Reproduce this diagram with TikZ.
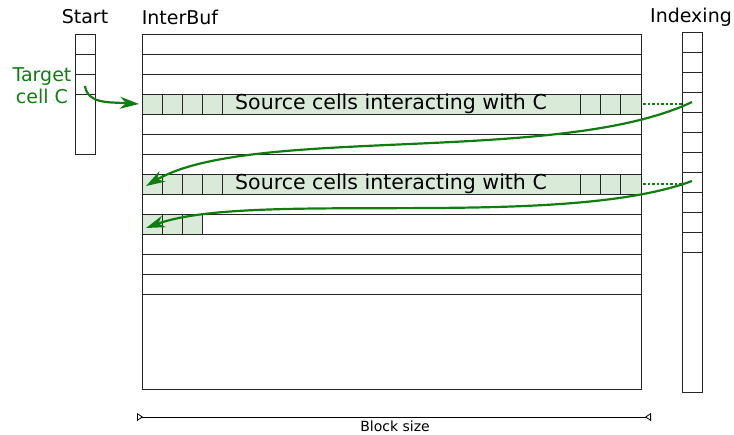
\documentclass[tikz,border=0pt]{standalone}
\usepackage{fontspec}
\setmainfont{DejaVu Sans}
\usetikzlibrary{arrows.meta}
\definecolor{cellgreen}{RGB}{217,234,217}
\definecolor{flowgreen}{RGB}{16,125,16}
\begin{document}
\begin{tikzpicture}[x=1pt,y=-1pt,
    cellline/.style={draw=black!85, line width=0.8pt},
    flowarrow/.style={draw=flowgreen, line width=2.2pt, -{Stealth[length=19pt,width=12pt,inset=6pt]}},
    dotlink/.style={draw=flowgreen, line width=2.5pt, dotted},
    titlelabel/.style={font=\fontsize{19}{22}\selectfont}]
\useasboundingbox (0,0) rectangle (734,434);
% titles
\node[titlelabel] (start) at (85,17) {Start};
\node[titlelabel] (interbuf) at (180,17) {InterBuf};
\node[titlelabel] (indexing) at (691,17) {Indexing};
% green rows
\fill[cellgreen] (142,94) rectangle (641,114);
\fill[cellgreen] (142,174) rectangle (641,194);
\fill[cellgreen] (142,214) rectangle (202,234);
% interbuf
\draw[cellline] (142,34) rectangle (641,389);
\foreach \y in {54,74,...,294}
  \draw[cellline] (142,\y) -- (641,\y);
\foreach \r in {94,174}{
  \foreach \x in {162,182,202,222,580,600,620}
    \draw[cellline] (\x,\r) -- (\x,\r+20);
}
\foreach \x in {162,182,202}
  \draw[cellline] (\x,214) -- (\x,234);
\node[font=\fontsize{20.5}{22}\selectfont] (srcA) at (391,104) {Source cells interacting with C};
\node[font=\fontsize{20.5}{22}\selectfont] (srcB) at (391,184) {Source cells interacting with C};
% start column
\draw[cellline] (75,34) rectangle (95,154);
\foreach \y in {54,74,94}
  \draw[cellline] (75,\y) -- (95,\y);
% indexing column
\draw[cellline] (682,32) rectangle (702,392);
\foreach \y in {52,72,...,252}
  \draw[cellline] (682,\y) -- (702,\y);
% arrows
\node[titlelabel, text=flowgreen, align=center] (target) at (42,86) {Target\\cell C};
\coordinate (cslot) at (85,86);
\coordinate (rowA) at (139,104);
\coordinate (rowB) at (146,186);
\coordinate (rowC) at (146,228);
\coordinate (idxA) at (692,102);
\coordinate (idxB) at (692,181);
\coordinate (endA) at (643,104);
\coordinate (endB) at (643,184);
\coordinate (ixA) at (682,104);
\coordinate (ixB) at (682,184);
\draw[flowarrow] (cslot) .. controls (88,104) and (108,102) .. (rowA);
\draw[flowarrow] (idxA) .. controls (560,165) and (250,125) .. (rowB);
\draw[flowarrow] (idxB) .. controls (560,230) and (250,190) .. (rowC);
\draw[dotlink] (endA) -- (ixA);
\draw[dotlink] (endB) -- (ixB);
% block size
\coordinate (bsl) at (137,417);
\coordinate (bsr) at (651,417);
\draw[line width=0.8pt, {Triangle[open,reversed,length=6pt,width=8pt]}-{Triangle[open,reversed,length=6pt,width=8pt]}] (bsl) -- (bsr);
\node[font=\fontsize{14}{16}\selectfont, anchor=base, inner sep=0pt] (bsize) at (395,431) {Block size};
\end{tikzpicture}
\end{document}
